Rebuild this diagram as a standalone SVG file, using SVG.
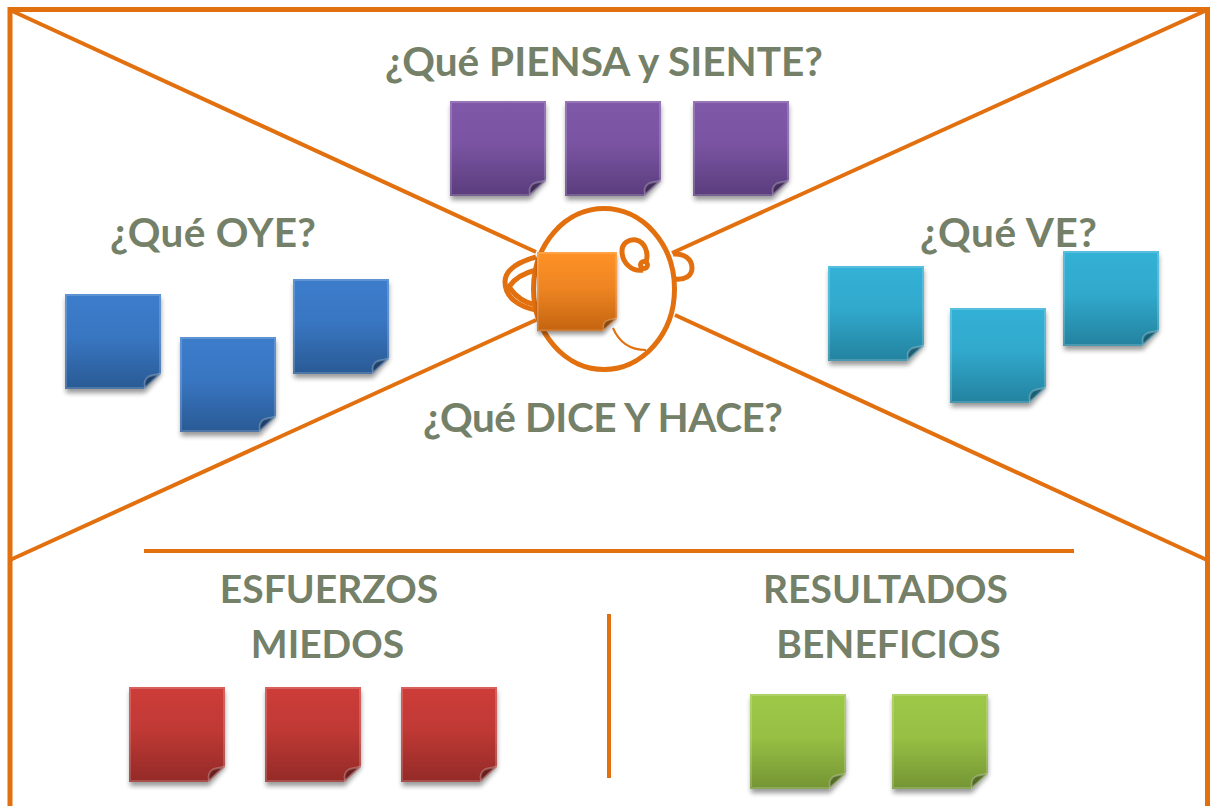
<svg xmlns="http://www.w3.org/2000/svg" width="1210" height="806" viewBox="0 0 1210 806">
<style>
.l{stroke:#e2700f;fill:none;stroke-width:4}
.f{stroke-width:5}
.h{stroke-width:5}
.t{font-family:Lato,"Liberation Sans",sans-serif;font-weight:700;font-size:39px;fill:#748068;text-anchor:middle}
.q{font-size:40.5px}
.s{fill:#000;opacity:.4;filter:url(#blur)}
</style>
<defs>
<filter id="blur" x="-20%" y="-20%" width="140%" height="140%"><feGaussianBlur stdDeviation="2.500"/></filter>
<linearGradient id="gp" x1="0" y1="0" x2="0" y2="1"><stop offset="0" stop-color="#7f58a8"/><stop offset=".45" stop-color="#7a54a2"/><stop offset="1" stop-color="#5a3d7d"/></linearGradient>
<linearGradient id="gb" x1="0" y1="0" x2="0" y2="1"><stop offset="0" stop-color="#3c7dcb"/><stop offset=".45" stop-color="#3976c2"/><stop offset="1" stop-color="#295a94"/></linearGradient>
<linearGradient id="gc" x1="0" y1="0" x2="0" y2="1"><stop offset="0" stop-color="#33b1d6"/><stop offset=".45" stop-color="#31a9cc"/><stop offset="1" stop-color="#23829f"/></linearGradient>
<linearGradient id="gr" x1="0" y1="0" x2="0" y2="1"><stop offset="0" stop-color="#cd3d39"/><stop offset=".45" stop-color="#c03935"/><stop offset="1" stop-color="#932a27"/></linearGradient>
<linearGradient id="gg" x1="0" y1="0" x2="0" y2="1"><stop offset="0" stop-color="#9dc847"/><stop offset=".45" stop-color="#97c044"/><stop offset="1" stop-color="#749434"/></linearGradient>
<linearGradient id="go" x1="0" y1="0" x2="0" y2="1"><stop offset="0" stop-color="#ff9226"/><stop offset=".45" stop-color="#ee8522"/><stop offset="1" stop-color="#c46410"/></linearGradient>
<g id="note">
<path class="s" d="M1 4H96V81L80 99H1Z"/>
<path d="M0 0H96V80L80 95H0Z"/>
<path d="M1 1H95V79.500L79.500 94H1Z" fill="none" stroke="#fff" stroke-opacity=".18" stroke-width="2"/>
<path d="M80 94C79 89 80 85 83 83C86 81 91 81 95 80Z" fill="#000" fill-opacity=".3" stroke="#fff" stroke-opacity=".25" stroke-width="2"/>
</g>
</defs>
<rect width="1210" height="806" fill="#fff"/>
<g id="connectors">
<path class="l f" d="M10 806V9.500H1207.500V806"/>
<path class="l" d="M10 10L536 252M1207 10L672 253M10 560L536 320M1207 560L675 315"/>
<path class="l" d="M144 551H1074"/>
<path class="l" d="M609 614V778"/>
</g>
<g id="head">
<ellipse class="l h" cx="604" cy="289" rx="70.500" ry="80.500"/>
<path class="l h" d="M536 257C518 262 505 270 505 282C505 298 520 307 536 310"/>
<path class="l h" d="M536 270C524 273 514 279 509 287C516 297 524 303 536 305"/>
<path class="l h" d="M673 254C684 253 692 259 692 268C692 276 685 280 675 279"/>
<path class="l h" d="M643 270C632 272 622 263 622 251C622 243 629 239 636 240C645 242 649 253 646 262"/>
<circle class="l h" cx="644" cy="265" r="3.500"/>
<path class="l" style="stroke-width:2" d="M613 328C619 342 630 350 646 350"/>
</g>
<g id="note-center"><use href="#note" transform="translate(537 252) scale(.833)" fill="url(#go)"/></g>
<g id="note-p1"><use href="#note" x="450" y="101" fill="url(#gp)"/></g>
<g id="note-p2"><use href="#note" x="565" y="101" fill="url(#gp)"/></g>
<g id="note-p3"><use href="#note" x="693" y="101" fill="url(#gp)"/></g>
<g id="note-b1"><use href="#note" x="65" y="294" fill="url(#gb)"/></g>
<g id="note-b2"><use href="#note" x="180" y="337" fill="url(#gb)"/></g>
<g id="note-b3"><use href="#note" x="293" y="279" fill="url(#gb)"/></g>
<g id="note-c1"><use href="#note" x="828" y="266" fill="url(#gc)"/></g>
<g id="note-c2"><use href="#note" x="950" y="308" fill="url(#gc)"/></g>
<g id="note-c3"><use href="#note" x="1063" y="251" fill="url(#gc)"/></g>
<g id="note-r1"><use href="#note" x="129" y="687" fill="url(#gr)"/></g>
<g id="note-r2"><use href="#note" x="265" y="687" fill="url(#gr)"/></g>
<g id="note-r3"><use href="#note" x="401" y="687" fill="url(#gr)"/></g>
<g id="note-g1"><use href="#note" x="750" y="694" fill="url(#gg)"/></g>
<g id="note-g2"><use href="#note" x="892" y="694" fill="url(#gg)"/></g>
<g id="labels">
<text class="t q" x="604" y="76" textLength="438">¿Qué PIENSA y SIENTE?</text>
<text class="t q" x="213" y="247" textLength="206">¿Qué OYE?</text>
<text class="t q" x="1008.500" y="247" textLength="177">¿Qué VE?</text>
<text class="t q" x="603" y="432" textLength="360">¿Qué DICE Y HACE?</text>
<text class="t" x="329" y="603">ESFUERZOS</text>
<text class="t" x="327.500" y="658">MIEDOS</text>
<text class="t" x="885.500" y="603">RESULTADOS</text>
<text class="t" x="888.500" y="658">BENEFICIOS</text>
</g>
</svg>
